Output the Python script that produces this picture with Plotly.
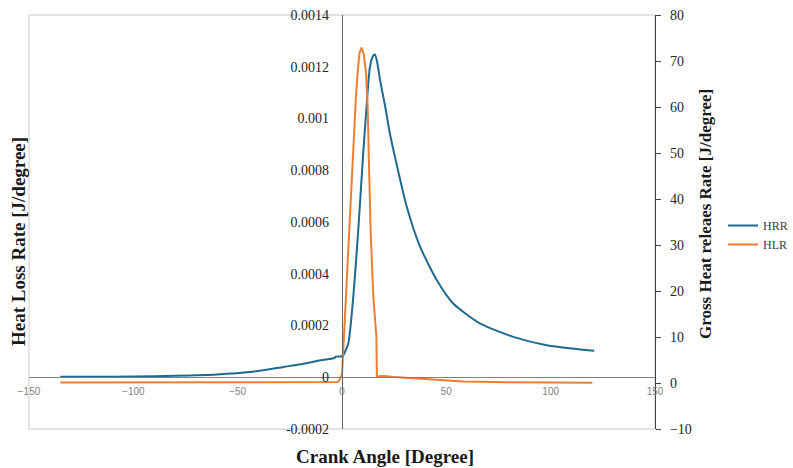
import plotly.graph_objects as go

# ---- data ----
hrr_angle = [-135, -120, -100, -80, -60, -44, -28, -20, -12, -3.5, -3, 0, 0.6, 3.0, 5.4, 7.8, 10.2,
             11.8, 13.4, 15.0, 15.8, 16.8, 18.2, 20.6, 23.0, 25.7, 31.0, 37.4, 45.4, 53.3, 66.1,
             82.1, 98.1, 120.9]
hrr_value = [0.000002, 0.000002, 0.000003, 0.000006, 0.000011, 0.00002, 0.00004, 0.00005, 0.000063,
             0.000075, 0.00008, 0.000081, 0.000085, 0.00013, 0.00031, 0.00057, 0.00087,
             0.00105, 0.0012, 0.001243, 0.001247, 0.00122, 0.00115, 0.00105, 0.00094, 0.00084,
             0.00066, 0.000505, 0.000376, 0.000285, 0.000208, 0.000156, 0.000124, 0.000102]

hlr_angle = [-135, -60, -3, -2, -1, 0, 0.3, 1.9, 3.4, 4.8, 6.7, 7.5, 8.4, 9.4, 10.4, 11.5, 12.3,
             12.9, 13.7, 15.0, 16.1, 16.5, 16.7, 20, 25, 34, 45, 58, 80, 120]
hlr_value = [0.1, 0.1, 0.1, 0.2, 0.8, 2.0, 4.3, 18.8, 33.3, 47.9, 62.4, 67.5, 71.8, 72.9, 71.5, 67.5,
             60.0, 48.0, 33.3, 18.8, 11.0, 10.0, 1.4, 1.5, 1.3, 1.0, 0.6, 0.3, 0.15, 0.07]

x_ticks = [-150, -100, -50, 0, 50, 100, 150]
left_ticks = [-0.0002, 0, 0.0002, 0.0004, 0.0006, 0.0008, 0.001, 0.0012, 0.0014]
left_tick_text = ["-0.0002", "0", "0.0002", "0.0004", "0.0006", "0.0008", "0.001", "0.0012", "0.0014"]
right_ticks = [-10, 0, 10, 20, 30, 40, 50, 60, 70, 80]

W, H = 793, 468


def px(xp):
    return xp / W


def py(yp):
    return 1 - yp / H


xdom = [px(29), px(655)]
ydom = [py(429), py(15)]

left_range = [-0.0002, 0.0014]
zero_frac = (0 - left_range[0]) / (left_range[1] - left_range[0])
x_axis_pos = ydom[0] + zero_frac * (ydom[1] - ydom[0])
y_axis_pos = xdom[0] + 0.5 * (xdom[1] - xdom[0])

SERIF = "Liberation Serif"
BLUE = "#20698f"
ORANGE = "#ED7D31"

fig = go.Figure()
fig.add_trace(go.Scatter(x=hrr_angle, y=hrr_value, name="HRR", mode="lines",
                         line=dict(color=BLUE, width=2, shape="spline", smoothing=0.6),
                         yaxis="y", legendgroup="a"))
fig.add_trace(go.Scatter(x=hlr_angle, y=hlr_value, name="HLR", mode="lines",
                         line=dict(color=ORANGE, width=2),
                         yaxis="y2", legendgroup="b"))

fig.update_layout(
    width=W, height=H,
    margin=dict(l=0, r=0, t=0, b=0, autoexpand=False),
    paper_bgcolor="white", plot_bgcolor="white",
    showlegend=True,
    legend=dict(x=px(723), y=py(211), xanchor="left", yanchor="top",
                font=dict(family=SERIF, size=12, color="#404040"),
                bgcolor="rgba(0,0,0,0)", tracegroupgap=0, itemwidth=30),
    xaxis=dict(domain=xdom, range=[-150, 150], anchor="free", position=x_axis_pos,
               tickvals=x_ticks, ticks="", showline=True, linecolor="#7f7f7f", linewidth=1.3,
               showgrid=False, zeroline=False, automargin=False, ticklabeloverflow="allow",
               tickfont=dict(family="Liberation Sans", size=10, color="#7f7f7f"),
               ticklabelstandoff=5),
    yaxis=dict(domain=ydom, range=left_range, anchor="free", position=y_axis_pos, side="left",
               tickvals=left_ticks, ticktext=left_tick_text, ticks="",
               showline=True, linecolor="#666666", linewidth=1.3,
               showgrid=False, zeroline=False, automargin=False, ticklabeloverflow="allow",
               tickfont=dict(family=SERIF, size=14, color="#262626"),
               ticklabelstandoff=10),
    yaxis2=dict(domain=ydom, range=[-10, 80], overlaying="y", side="right", anchor="x",
                tickvals=right_ticks, ticks="outside", ticklen=5, tickcolor="#404040",
                showline=True, linecolor="#404040", linewidth=1.3,
                showgrid=False, zeroline=False, automargin=False, ticklabeloverflow="allow",
                tickfont=dict(family=SERIF, size=14, color="#262626"),
                ticklabelstandoff=6),
    shapes=[dict(type="rect", xref="paper", yref="paper",
                 x0=xdom[0], x1=xdom[1], y0=ydom[0], y1=ydom[1],
                 line=dict(color="#d9d9d9", width=1.3), layer="below")],
    annotations=[
        dict(text="<b>Heat Loss Rate [J/degree]</b>", xref="paper", yref="paper",
             x=px(18), y=py(242), textangle=-90, showarrow=False,
             font=dict(family=SERIF, size=19, color="#1a1a1a"), xanchor="center", yanchor="middle"),
        dict(text="<b>Crank Angle [Degree]</b>", xref="paper", yref="paper",
             x=px(385), y=py(456), showarrow=False,
             font=dict(family=SERIF, size=19, color="#1a1a1a"), xanchor="center", yanchor="middle"),
        dict(text="<b>Gross Heat releaes Rate [J/degree]</b>", xref="paper", yref="paper",
             x=px(706), y=py(214), textangle=-90, showarrow=False,
             font=dict(family=SERIF, size=17, color="#1a1a1a"), xanchor="center", yanchor="middle"),
    ],
)

fig.write_html("out.html", config={"displayModeBar": False},
               post_script="document.body.style.margin='0';document.body.style.overflow='hidden';")
